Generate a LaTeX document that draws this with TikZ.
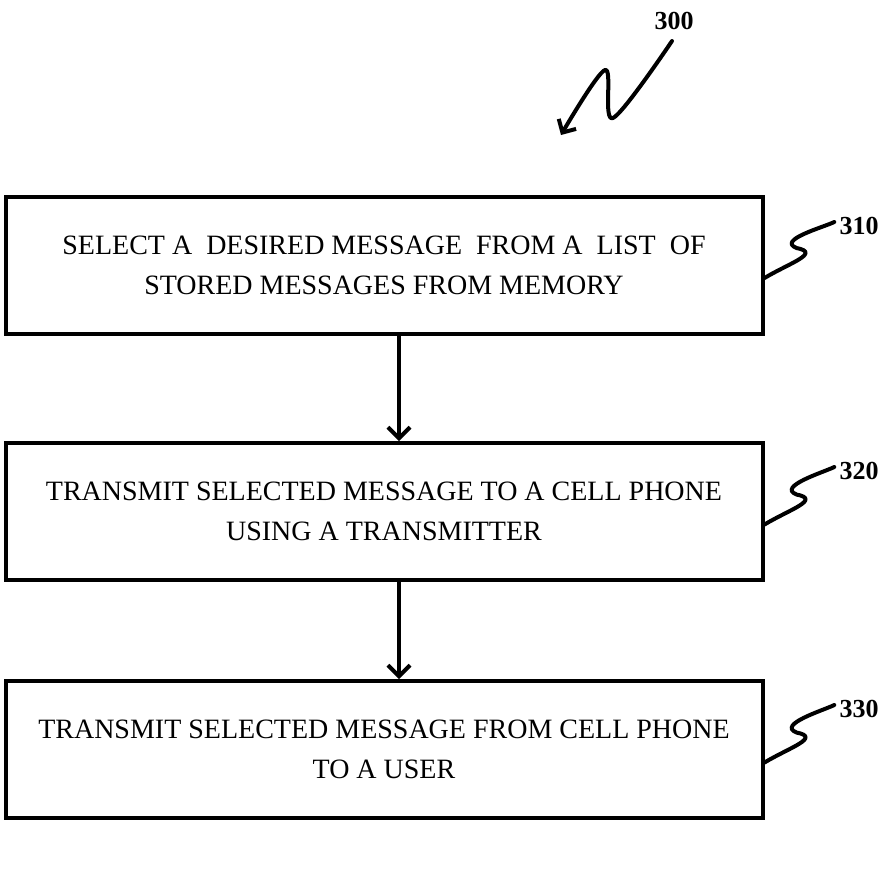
\documentclass[tikz,border=0pt]{standalone}
\usepackage{fontspec}
\setmainfont{Liberation Serif}
\usetikzlibrary{arrows.meta}
\begin{document}
\begin{tikzpicture}[x=1pt,y=-1pt,
  stepbox/.style={draw, line width=4pt, rectangle, minimum width=757pt, minimum height=137pt,
    align=center, inner sep=0pt, font=\fontsize{28}{40}\selectfont},
  flow/.style={line width=4pt, -{Straight Barb[length=11pt,width=22pt,line width=4pt]}},
  lead/.style={line width=4pt, line cap=round, line join=round},
  reflabel/.style={font=\bfseries\fontsize{26}{26}\selectfont, inner sep=0pt}]
\useasboundingbox (0,0) rectangle (889,895);
\node[stepbox] (b1) at (384,265) {SELECT A\ \ DESIRED MESSAGE\ \ FROM A\ \ LIST\ \ OF\\STORED MESSAGES FROM MEMORY};
\node[stepbox] (b2) at (384,511.5) {TRANSMIT SELECTED MESSAGE TO A CELL PHONE\\USING A TRANSMITTER};
\node[stepbox] (b3) at (384,749.5) {TRANSMIT SELECTED MESSAGE FROM CELL PHONE\\TO A USER};
\draw[flow] (b1.south -| 399,0) -- (b2.north -| 399,0);
\draw[flow] (b2.south -| 399,0) -- (b3.north -| 399,0);
\node[reflabel] (l300) at (674,21) {300};
\node[reflabel] (l310) at (859,226) {310};
\node[reflabel] (l320) at (859,471) {320};
\node[reflabel] (l330) at (859,709) {330};
\draw[lead, -{Straight Barb[length=10pt,width=20pt,line width=4pt]}] plot[smooth, tension=0.55] coordinates {(672,41) (613,118) (605,70) (561,135)};
\foreach \b/\l in {b1/l310,b2/l320,b3/l330}{
  \draw[lead] ([yshift=-13pt]\b.east) .. controls +(25,-15) and +(25,5) .. +(32,-30)
    .. controls +(-20,-8) and +(-10,5) .. ([xshift=-5pt,yshift=4pt]\l.west);
}
\end{tikzpicture}
\end{document}
